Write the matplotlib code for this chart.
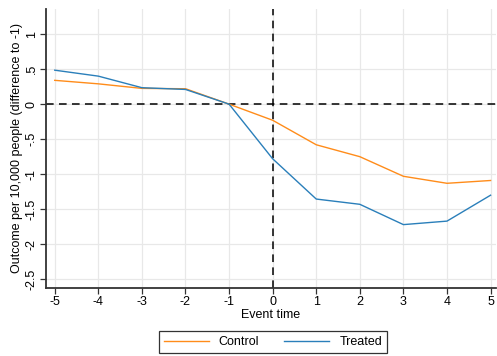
import numpy as np
import matplotlib
matplotlib.use('Agg')
import matplotlib.pyplot as plt

plt.rcParams['font.family'] = ['Liberation Sans', 'DejaVu Sans']

# datos
event_time = [-5, -4, -3, -2, -1, 0, 1, 2, 3, 4, 5]
control = [0.34, 0.29, 0.225, 0.22, 0.0, -0.23, -0.58, -0.75, -1.03, -1.13, -1.09]
treated = [0.485, 0.40, 0.235, 0.21, 0.0, -0.78, -1.355, -1.43, -1.72, -1.67, -1.30]
y_ticks = [-2.5, -2, -1.5, -1, -0.5, 0, 0.5, 1]
y_labels = ['-2.5', '-2', '-1.5', '-1', '-.5', '0', '.5', '1']

fig = plt.figure(figsize=(4.97, 3.56), dpi=100)
ax = fig.add_axes([0.0926, 0.192, 0.905, 0.783])

ax.grid(True, color='#e8e8e8', linewidth=0.9, zorder=0)
ax.axhline(0, color='black', linestyle=(0, (5, 3.5)), linewidth=1.1, zorder=2)
ax.axvline(0, color='black', linestyle=(0, (5, 3.5)), linewidth=1.1, zorder=2)

ax.plot(event_time, control, color='#ff8c1a', linewidth=1.0, label='Control', zorder=3)
ax.plot(event_time, treated, color='#2a7fba', linewidth=1.0, label='Treated', zorder=3)

ax.set_xlim(-5.2, 5.12)
ax.set_ylim(-2.62, 1.36)
ax.set_xticks(event_time)
ax.set_xticklabels([str(v) for v in event_time], fontsize=9)
ax.set_yticks(y_ticks)
ax.set_yticklabels(y_labels, fontsize=9, rotation=90, va='center')

for s in ['top', 'right']:
    ax.spines[s].set_visible(False)
for s in ['left', 'bottom']:
    ax.spines[s].set_color('#333333')
    ax.spines[s].set_linewidth(1.3)
ax.tick_params(direction='out', length=4, width=0.9, color='#333333', pad=2)

ax.set_xlabel('Event time', fontsize=9, labelpad=1)
ax.set_ylabel('Outcome per 10,000 people (difference to -1)', fontsize=9, labelpad=2)

leg = fig.legend(loc='center', bbox_to_anchor=(0.549, 0.039), ncol=2, fontsize=9,
                 frameon=True, fancybox=False, edgecolor='black', handlelength=3.6,
                 columnspacing=2.0, borderpad=0.4)
leg.get_frame().set_linewidth(0.9)

fig.savefig('out.png', dpi=100)
